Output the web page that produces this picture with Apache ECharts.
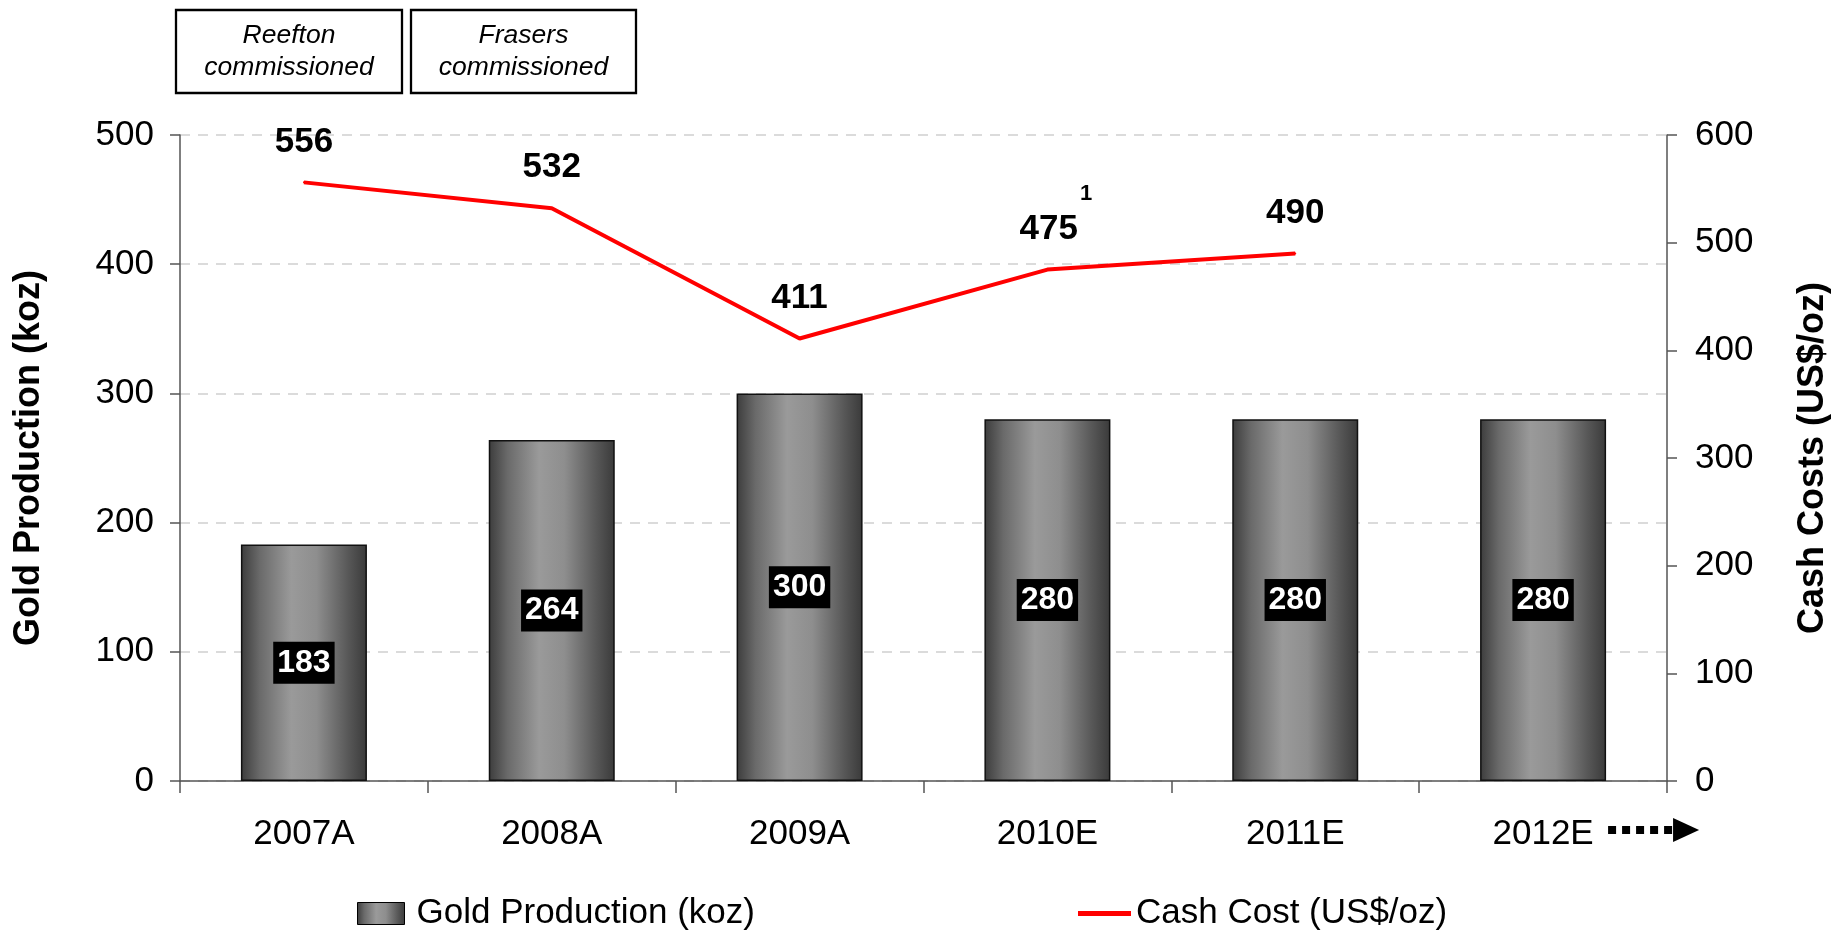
<!DOCTYPE html>
<html><head><meta charset="utf-8">
<script src="https://cdn.jsdelivr.net/npm/echarts@6/dist/echarts.min.js"></script>
<style>html,body{margin:0;padding:0;background:#fff}#c{width:1847px;height:933px}</style>
</head><body><div id="c"></div>
<script>
var categories = ['2007A','2008A','2009A','2010E','2011E','2012E'];
var goldProduction = [183, 264, 300, 280, 280, 280];
var cashCost = [556, 532, 411, 475, 490, null];
var leftTicks = [0, 100, 200, 300, 400, 500];
var rightTicks = [0, 100, 200, 300, 400, 500, 600];
var footnoteIndex = 3;
var footnoteMark = '1';
var milestones = ['Reefton\ncommissioned', 'Frasers\ncommissioned'];

var FONT = '"Liberation Sans", Arial, sans-serif';
var chart = echarts.init(document.getElementById('c'), null, {renderer: 'canvas'});

var barGrad = new echarts.graphic.LinearGradient(0, 0, 1, 0, [
  {offset: 0, color: '#3c3c3c'},
  {offset: 0.15, color: '#6a6a6a'},
  {offset: 0.4, color: '#9a9a9a'},
  {offset: 0.6, color: '#8e8e8e'},
  {offset: 0.85, color: '#585858'},
  {offset: 1, color: '#3a3a3a'}
]);

var option = {
  animation: false,
  textStyle: {fontFamily: FONT},
  grid: {left: 180, right: 180, top: 135, bottom: 152},
  legend: [{
    left: 352, top: 891, itemWidth: 47, itemHeight: 22,
    data: [{name: 'Gold Production (koz)', icon: 'rect', itemStyle: {color: barGrad, borderColor: '#000', borderWidth: 1}}],
    textStyle: {fontSize: 35, color: '#000', fontFamily: FONT, padding: [0, 0, 0, 7]}
  }, {
    left: 1073, top: 891, itemWidth: 53, itemHeight: 5,
    data: [{name: 'Cash Cost (US$/oz)', icon: 'rect', itemStyle: {color: '#ff0000', opacity: 1}}],
    textStyle: {fontSize: 35, color: '#000', fontFamily: FONT, padding: [0, 0, 0, 0]}
  }],
  xAxis: {
    type: 'category', data: categories, boundaryGap: true,
    axisLine: {lineStyle: {color: '#555', width: 1.5}},
    axisTick: {show: true, length: 12, inside: false, lineStyle: {color: '#555', width: 1.5}},
    axisLabel: {fontSize: 35, color: '#000', margin: 36, fontFamily: FONT}
  },
  yAxis: [{
    type: 'value', min: 0, max: 500, interval: 100,
    name: 'Gold Production (koz)', nameLocation: 'middle', nameRotate: 90, nameGap: 133,
    nameTextStyle: {fontSize: 36, fontWeight: 'bold', color: '#000', fontFamily: FONT},
    axisLine: {show: true, lineStyle: {color: '#555', width: 1.5}},
    axisTick: {show: true, length: 10, lineStyle: {color: '#555', width: 1.5}},
    axisLabel: {fontSize: 35, color: '#000', margin: 26, fontFamily: FONT},
    splitLine: {show: true, lineStyle: {color: '#cfcfcf', width: 1.5, type: [10, 8]}}
  }, {
    type: 'value', min: 0, max: 600, interval: 100, position: 'right',
    name: 'Cash Costs (US$/oz)', nameLocation: 'middle', nameRotate: 90, nameGap: 128,
    nameTextStyle: {fontSize: 36, fontWeight: 'bold', color: '#000', fontFamily: FONT},
    axisLine: {show: true, lineStyle: {color: '#555', width: 1.5}},
    axisTick: {show: true, length: 10, lineStyle: {color: '#555', width: 1.5}},
    axisLabel: {fontSize: 35, color: '#000', margin: 28, fontFamily: FONT},
    splitLine: {show: false}
  }],
  series: [{
    name: 'Gold Production (koz)', type: 'bar', yAxisIndex: 0, data: goldProduction,
    barWidth: 126,
    itemStyle: {color: barGrad, borderColor: '#111', borderWidth: 1.5},
    label: {show: true, position: 'inside', color: '#fff', backgroundColor: '#000',
      fontSize: 32, fontWeight: 'bold', fontFamily: FONT, padding: [6, 4, 4, 4]}
  }, {
    name: 'Cash Cost (US$/oz)', type: 'line', yAxisIndex: 1, data: cashCost,
    symbol: 'circle', symbolSize: 2, showSymbol: true,
    lineStyle: {color: '#ff0000', width: 4}, itemStyle: {color: '#ff0000'},
    labelLayout: {hideOverlap: false},
    label: {
      show: true, position: 'top', distance: 22,
      formatter: function (p) {
        if (p.value == null) return '';
        if (p.dataIndex === footnoteIndex) return '{b|}{v|' + p.value + '}{s|' + footnoteMark + '}';
        return '{v|' + p.value + '}';
      },
      rich: {
        v: {fontSize: 35, fontWeight: 'bold', color: '#000', fontFamily: FONT, lineHeight: 35, verticalAlign: 'bottom'},
        b: {width: 17, lineHeight: 35},
        s: {fontSize: 22, fontWeight: 'bold', color: '#000', fontFamily: FONT, lineHeight: 64, verticalAlign: 'top', padding: [0, 0, 0, 2]}
      }
    }
  }]
};
chart.setOption(option);

// annotation graphics
var x5 = chart.convertToPixel({xAxisIndex: 0}, categories[5]);
var y0 = chart.convertToPixel({yAxisIndex: 0}, 0);
var ay = y0 + 49;
var ax = x5 + 65;
var boxes = [{x: 176, w: 226}, {x: 411, w: 225}];
var g = [];
boxes.forEach(function (b, i) {
  g.push({type: 'rect', shape: {x: b.x, y: 10, width: b.w, height: 83},
    style: {fill: '#fff', stroke: '#000', lineWidth: 2.3}});
  g.push({type: 'text', x: b.x + b.w / 2, y: 52,
    style: {text: milestones[i], fontSize: 26.5, fontStyle: 'italic', fontFamily: FONT, fill: '#000', align: 'center', verticalAlign: 'middle', lineHeight: 32}});
});
g.push({type: 'line', shape: {x1: ax, y1: ay, x2: ax + 66, y2: ay},
  style: {stroke: '#000', lineWidth: 8, lineDash: [8, 6]}});
g.push({type: 'polygon', shape: {points: [[ax + 65, ay - 12], [ax + 91, ay], [ax + 65, ay + 12]]},
  style: {fill: '#000'}});
chart.setOption({graphic: g});
</script></body></html>
